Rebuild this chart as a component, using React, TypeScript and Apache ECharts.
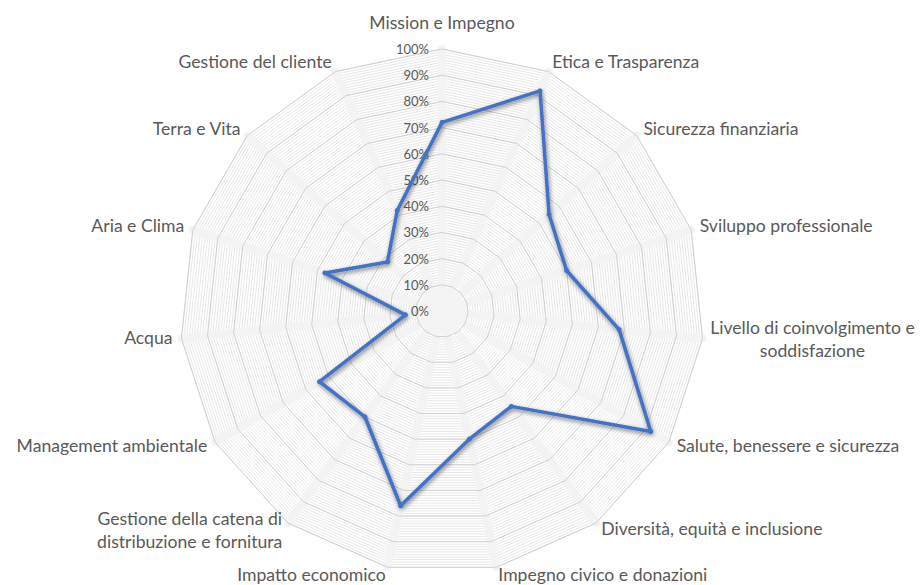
import React, { useEffect, useRef } from 'react';
import * as echarts from 'echarts';

// Categories listed clockwise starting from the top
const indicatorNames = [
  'Mission e Impegno',
  'Etica e Trasparenza',
  'Sicurezza finanziaria',
  'Sviluppo professionale',
  'Livello di coinvolgimento e\nsoddisfazione',
  'Salute, benessere e sicurezza',
  'Diversità, equità e inclusione',
  'Impegno civico e donazioni',
  'Impatto economico',
  'Gestione della catena di\ndistribuzione e fornitura',
  'Management ambientale',
  'Acqua',
  'Aria e Clima',
  'Terra e Vita',
  'Gestione del cliente',
];

const seriesValues = [72, 92, 55, 50, 68, 92, 45, 50, 76, 50, 54, 14, 47, 28, 42];

const axisMax = 100;
const majorSplits = 10;
const minorSplits = 100;

const FONT = 'Lato, "Open Sans", sans-serif';
const TEXT = '#595959';
const NAME_SIZE = 17.6;

export default function App() {
  const ref = useRef<HTMLDivElement>(null);

  useEffect(() => {
    document.body.style.margin = '0';
    if (!ref.current) return;
    const chart = echarts.init(ref.current, null, { renderer: 'svg' });

    const center = [442, 311];
    const radius = 262;

    // ECharts radar runs counter-clockwise; reorder so categories go clockwise
    const order = indicatorNames.map((_, i) => (i === 0 ? 0 : indicatorNames.length - i));
    const names = order.map((i) => indicatorNames[i]);
    const vals = order.map((i) => seriesValues[i]);

    const plainIndicators = names.map((n) => ({ name: n, max: axisMax, min: 0 }));
    const labelledIndicators = names.map((n, i) =>
      i === 0
        ? { name: n, max: axisMax, min: 0, axisLabel: { show: true } }
        : { name: n, max: axisMax, min: 0 }
    );

    const base = { color: TEXT, fontFamily: FONT, fontSize: NAME_SIZE };

    const option: any = {
      animation: false,
      backgroundColor: '#ffffff',
      radar: [
        {
          center,
          radius,
          startAngle: 90,
          splitNumber: minorSplits,
          shape: 'polygon',
          z: 0,
          indicator: plainIndicators,
          axisName: { show: false },
          axisLine: { show: false },
          axisTick: { show: false },
          axisLabel: { show: false },
          splitArea: { show: false },
          splitLine: { lineStyle: { color: '#e8e8e8', width: 1 } },
        },
        {
          center,
          radius,
          startAngle: 90,
          splitNumber: majorSplits,
          shape: 'polygon',
          z: 1,
          indicator: plainIndicators,
          axisName: { show: false },
          axisLine: { show: true, lineStyle: { color: '#f3f3f3', width: 8 } },
          axisTick: { show: false },
          axisLabel: { show: false },
          splitArea: { show: false },
          splitLine: { show: false },
        },
        {
          center,
          radius,
          startAngle: 90,
          splitNumber: majorSplits,
          shape: 'polygon',
          z: 2,
          indicator: labelledIndicators,
          axisNameGap: 9,
          axisName: {
            show: true,
            ...base,
            formatter: (name: string) => {
              if (name.indexOf('\n') >= 0) {
                const tag = name.startsWith('Livello') ? 'c' : 'd';
                return name
                  .split('\n')
                  .map((l) => `{${tag}|${l}}`)
                  .join('\n');
              }
              if (name === indicatorNames[0]) return `{m|${name}}`;
              return `{n|${name}}`;
            },
            rich: {
              c: { ...base, width: 202, align: 'center', lineHeight: 23 },
              d: { ...base, width: 186, align: 'center', lineHeight: 23 },
              m: { ...base, padding: [0, 0, 9, 0] },
              n: { ...base, padding: [0, 0, 3, 0] },
            },
          },
          axisLine: { show: false },
          axisTick: { show: false },
          axisLabel: {
            show: false,
            color: TEXT,
            fontFamily: FONT,
            fontSize: 13,
            margin: 13,
            formatter: (v: number) => `${Math.round(v)}%`,
          },
          splitArea: { show: false },
          splitLine: { lineStyle: { color: '#d0d0d0', width: 1 } },
        },
      ],
      series: [
        {
          type: 'radar',
          radarIndex: 2,
          z: 5,
          symbol: 'circle',
          symbolSize: 5,
          itemStyle: { color: '#4472C4' },
          lineStyle: {
            color: '#4472C4',
            width: 3.5,
            shadowColor: 'rgba(0,0,0,0.5)',
            shadowBlur: 4,
            shadowOffsetX: 1,
            shadowOffsetY: 2,
          },
          data: [{ value: vals, name: 'Valore' }],
        },
      ],
    };

    chart.setOption(option);
    return () => chart.dispose();
  }, []);

  return <div ref={ref} style={{ width: 920, height: 585 }} />;
}
